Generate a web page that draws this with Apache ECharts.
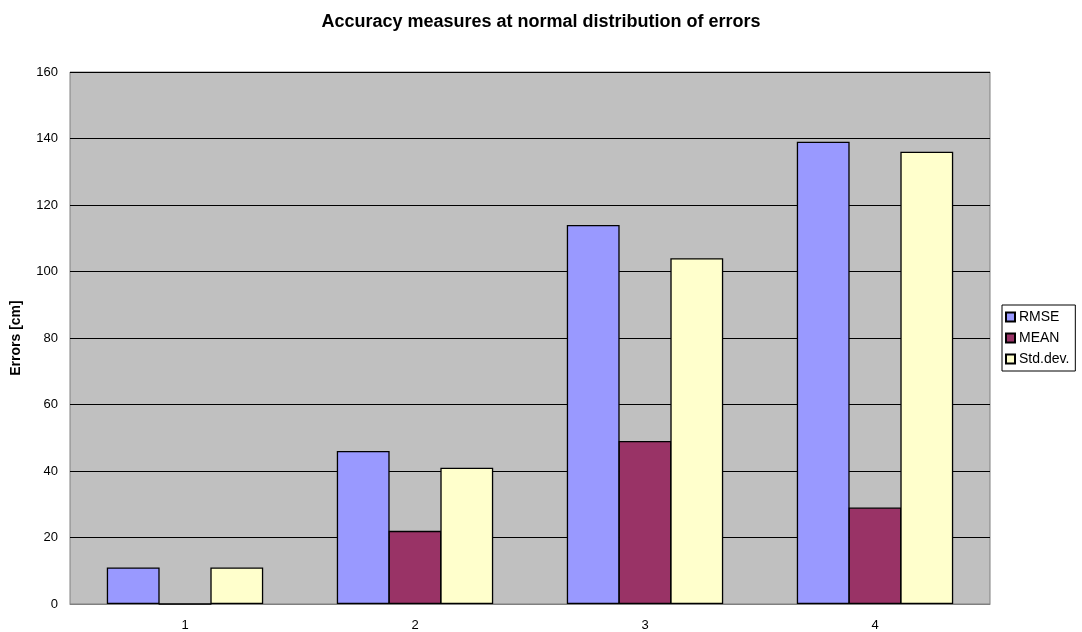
<!DOCTYPE html>
<html><head><meta charset="utf-8">
<script src="https://cdn.jsdelivr.net/npm/echarts@6/dist/echarts.min.js"></script>
<style>html,body{margin:0;padding:0;background:#fff}#c{width:1082px;height:632px}</style>
</head><body><div id="c"></div>
<script>
var categories = ['1', '2', '3', '4'];
var rmse = [11, 46, 114, 139];
var mean = [0, 22, 49, 29];
var stddev = [11, 41, 104, 136];
var yTicks = [0, 20, 40, 60, 80, 100, 120, 140, 160];

var chart = echarts.init(document.getElementById('c'));
var font = '"Liberation Sans", Arial, sans-serif';
var barStyle = function (c) { return { color: c, borderColor: '#000', borderWidth: 1.3 }; };
chart.setOption({
  animation: false,
  title: {
    text: 'Accuracy measures at normal distribution of errors',
    left: 'center', top: 8,
    textStyle: { fontFamily: font, fontSize: 18, fontWeight: 'bold', color: '#000' }
  },
  legend: {
    orient: 'vertical', left: 1002, top: 305,
    data: ['RMSE', 'MEAN', 'Std.dev.'],
    itemWidth: 9, itemHeight: 9, itemGap: 7,
    padding: [5, 6, 5, 3],
    borderColor: '#000', borderWidth: 1,
    icon: 'rect',
    textStyle: { fontFamily: font, fontSize: 14, color: '#000', padding: [0, 0, 0, -1] }
  },
  grid: {
    left: 70, right: 92, top: 72, bottom: 28,
    show: true, backgroundColor: '#c0c0c0', borderColor: '#808080', borderWidth: 1
  },
  xAxis: {
    type: 'category', data: categories,
    axisLine: { lineStyle: { color: '#808080' } },
    axisTick: { show: false },
    axisLabel: { fontFamily: font, fontSize: 13, color: '#000', margin: 15 }
  },
  yAxis: {
    type: 'value', min: yTicks[0], max: yTicks[yTicks.length - 1], interval: 20,
    name: 'Errors [cm]', nameLocation: 'middle', nameGap: 47, nameRotate: 90,
    nameTextStyle: { fontFamily: font, fontSize: 14, fontWeight: 'bold', color: '#000' },
    axisLine: { show: false },
    axisTick: { show: false },
    splitLine: { lineStyle: { color: '#000', width: 1 } },
    axisLabel: { fontFamily: font, fontSize: 13, color: '#000', margin: 12 }
  },
  series: [
    { name: 'RMSE', type: 'bar', data: rmse, barGap: '-2%', barCategoryGap: '32%', itemStyle: barStyle('#9999ff') },
    { name: 'MEAN', type: 'bar', data: mean, itemStyle: barStyle('#993366') },
    { name: 'Std.dev.', type: 'bar', data: stddev, itemStyle: barStyle('#ffffcc') }
  ]
});
</script></body></html>
